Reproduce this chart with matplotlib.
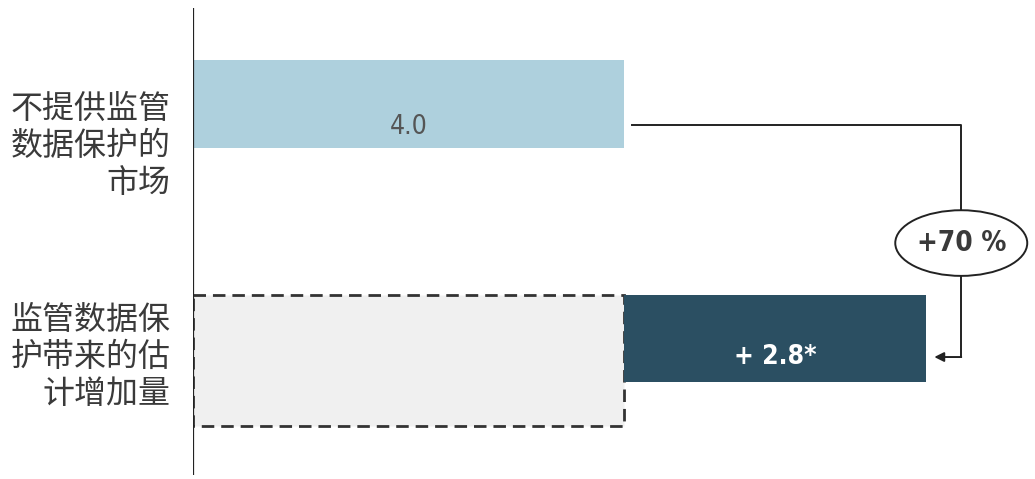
import matplotlib
matplotlib.use("Agg")
import matplotlib.pyplot as plt
from matplotlib.patches import Ellipse

plt.rcParams['font.family'] = ['Noto Sans CJK SC', 'DejaVu Sans']

# data
categories = ["不提供监管\n数据保护的\n市场", "监管数据保\n护带来的估\n计增加量"]
base_values = [4.0, 4.0]
increase = 2.8
value_labels = ["4.0", "+ 2.8*"]
growth_label = "+70 %"

fig = plt.figure(figsize=(10.35, 4.79), dpi=100)
ax = fig.add_axes([193 / 1035, 0, 1 - 193 / 1035, 1])
ax.set_xlim(0, 842 / 107.75)
ax.set_ylim(1 + 140.5 / 234.5, -104 / 234.5)
ax.axis("off")

num_font = dict(family=["DejaVu Sans"], fontstretch="condensed")

# bar 1: market without protection
ax.barh(0, base_values[0], height=0.375, color="#aed0dd", zorder=2)

# ghost bar (dashed) behind increase
ax.barh(1.094, base_values[1], height=0.559, left=0,
        facecolor="#f0f0f0", edgecolor="#333333", linestyle=(0, (4.5, 2.5)),
        linewidth=2, zorder=1)

# increase bar
ax.barh(1, increase, left=base_values[1], height=0.375, color="#2b4f62", zorder=3)

# axis line
ax.vlines(0, -0.41, 1.582, color="#222222", linewidth=1.6, zorder=4)

# category labels
label_y = [0.18, 1.08]
for y, txt in zip(label_y, categories):
    ax.text(-0.21, y, txt, ha="right", va="center", fontsize=23,
            color="#3a3a3a", linespacing=1.2)

# value labels
ax.text(base_values[0] / 2, 0.1, value_labels[0], ha="center", va="center",
        fontsize=19, color="#555555", **num_font)
ax.text(base_values[1] + increase / 2, 1.08, value_labels[1], ha="center", va="center",
        fontsize=19, color="white", fontweight="bold", **num_font)

# connector with growth bubble
total = base_values[1] + increase
x_start = base_values[0] + 0.07
x_right = total + 0.33
x_end = total + 0.08
y_top = 0.09
y_bot = 1.079
ax.plot([x_start, x_right, x_right], [y_top, y_top, y_bot],
        color="#222222", linewidth=1.4, zorder=2)
ax.annotate("", xy=(x_end, y_bot), xytext=(x_right, y_bot),
            arrowprops=dict(arrowstyle="-|>", color="#222222", lw=1.4,
                            mutation_scale=14, shrinkA=0, shrinkB=0))
ell = Ellipse((x_right, 0.593), 1.225, 0.28, facecolor="white",
              edgecolor="#222222", linewidth=1.4, zorder=5)
ax.add_patch(ell)
ax.text(x_right, 0.593, growth_label, ha="center", va="center", fontsize=20,
        fontweight="bold", color="#3a3a3a", zorder=6, **num_font)

fig.savefig("out.png", dpi=100)
